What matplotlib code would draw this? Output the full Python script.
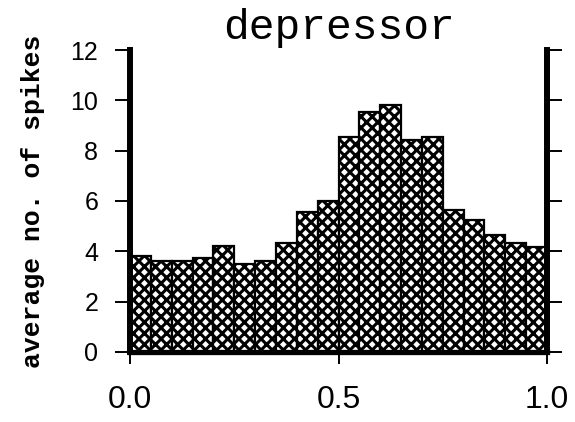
import numpy as np
import matplotlib
matplotlib.use("Agg")
import matplotlib.pyplot as plt

# Average spike counts per phase bin (20 bins over 0..1)
bin_edges = np.linspace(0.0, 1.0, 21)
avg_spikes = [3.83, 3.60, 3.61, 3.72, 4.23, 3.51, 3.61, 4.32, 5.55, 5.99,
              8.55, 9.55, 9.82, 8.41, 8.55, 5.65, 5.26, 4.63, 4.35, 4.16]
x_ticks = [0.0, 0.5, 1.0]
x_tick_labels = ["0.0", "0.5", "1.0"]
y_ticks = [0, 2, 4, 6, 8, 10, 12]
title_text = "depressor"
ylabel_text = "average no. of spikes"

plt.rcParams["hatch.linewidth"] = 2.2

fig = plt.figure(figsize=(5.75, 4.22), dpi=100)
ax = fig.add_axes([0.2261, 0.1659, 0.9513 - 0.2261, 0.8815 - 0.1659])

ax.bar(bin_edges[:-1], avg_spikes, width=np.diff(bin_edges), align="edge",
       facecolor="white", edgecolor="black", linewidth=1.6, hatch="xxx")

ax.set_xlim(0.0, 1.0)
ax.set_ylim(0, 12)

# Spines: thick left, right and bottom; no top
ax.spines["top"].set_visible(False)
for side in ("left", "right"):
    ax.spines[side].set_linewidth(4.3)
ax.spines["bottom"].set_linewidth(3.8)

ax.set_yticks(y_ticks)
ax.set_xticks(x_ticks)
ax.set_xticklabels(x_tick_labels)

ax.tick_params(axis="y", which="both", direction="out", length=10.8, width=1.4,
               left=True, right=True, labelleft=True, labelright=False,
               pad=12, labelsize=18)
ax.tick_params(axis="x", direction="out", length=8.6, width=1.4, pad=15,
               labelsize=23)
for lbl in ax.get_yticklabels() + ax.get_xticklabels():
    lbl.set_fontfamily("Liberation Sans")

ax.set_title(title_text, fontfamily="Liberation Mono", fontsize=31, pad=8)
ax.set_ylabel(ylabel_text, fontfamily="Liberation Mono", fontweight="bold",
              fontsize=19, labelpad=10)
ax.yaxis.set_label_coords(-0.205, 0.5)

fig.savefig("out.png", dpi=100, facecolor="white")
